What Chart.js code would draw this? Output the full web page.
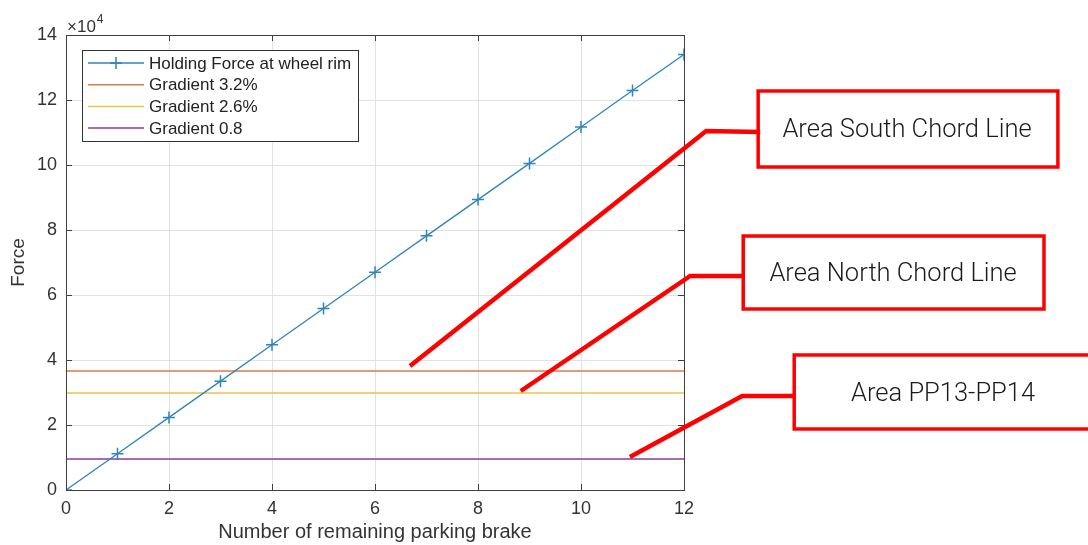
<!DOCTYPE html>
<html>
<head>
<meta charset="utf-8">
<script src="https://cdn.jsdelivr.net/npm/chart.js@4/dist/chart.umd.min.js"></script>
<style>
html,body{margin:0;padding:0;background:#fff;}
#c{display:block;}
</style>
</head>
<body>
<canvas id="c" width="1088" height="545"></canvas>
<script>
// ---- data ----
const brakes = [0,1,2,3,4,5,6,7,8,9,10,11,12];
const holdingForce = [0,11170,22340,33500,44700,55850,67000,78200,89350,100500,111700,122900,134000];
const gradient32 = 36600;
const gradient26 = 29850;
const gradient08 = 9540;
const xTicks = [0,2,4,6,8,10,12];
const yTicks = [0,20000,40000,60000,80000,100000,120000,140000];
const seriesLabels = ['Holding Force at wheel rim','Gradient 3.2%','Gradient 2.6%','Gradient 0.8'];
const annotationTexts = ['Area South Chord Line','Area North Chord Line','Area PP13-PP14'];
// annotation geometry in data units (x: brakes, y: force)
const annLines = [
  [[6.68,38150],[12.43,110460],[13.48,110150]],
  [[8.83,30460],[12.12,65850],[13.18,65850]],
  [[10.95,10150],[13.13,28920],[14.17,28920]]
];
const annBoxes = [
  [13.44,122770,19.26,99380],
  [13.15,78150,18.99,55690],
  [14.14,41540,20.08,18770]
];
const annTextPos = [[16.33,110600],[16.06,66300],[17.03,29400]];

const colors = ['#2f84bd','#e0784a','#e9c545','#a86bb5'];
const xMin = 0, xMax = 12;

const datasets = [
  {label: seriesLabels[0], data: brakes.map((b,i)=>({x:b,y:holdingForce[i]})),
   borderColor: colors[0], backgroundColor: colors[0], borderWidth: 1.3,
   pointStyle:'cross', pointRadius:6, pointBorderWidth:1.5, pointBorderColor: colors[0], tension:0},
  {label: seriesLabels[1], data: [{x:xMin,y:gradient32},{x:xMax,y:gradient32}],
   borderColor: colors[1], borderWidth: 1.5, pointRadius:0},
  {label: seriesLabels[2], data: [{x:xMin,y:gradient26},{x:xMax,y:gradient26}],
   borderColor: colors[2], borderWidth: 1.5, pointRadius:0},
  {label: seriesLabels[3], data: [{x:xMin,y:gradient08},{x:xMax,y:gradient08}],
   borderColor: colors[3], borderWidth: 2, pointRadius:0}
];

const FONT = "'Liberation Sans', Arial, Helvetica, sans-serif";
const AFONT = "Roboto, 'Liberation Sans', Arial, sans-serif";
const AXIS = '#404040';

const decor = {
  id:'decor',
  afterDatasetsDraw(chart){
    const ctx = chart.ctx, a = chart.chartArea;
    const xs = chart.scales.x, ys = chart.scales.y;
    ctx.save();
    // box
    ctx.strokeStyle = AXIS; ctx.lineWidth = 1;
    ctx.strokeRect(Math.round(a.left)+0.5, Math.round(a.top)+0.5, Math.round(a.right-a.left), Math.round(a.bottom-a.top));
    // inward ticks
    ctx.beginPath();
    xTicks.forEach(v=>{
      const px = Math.round(xs.getPixelForValue(v))+0.5;
      ctx.moveTo(px,a.bottom); ctx.lineTo(px,a.bottom-6);
      ctx.moveTo(px,a.top); ctx.lineTo(px,a.top+6);
    });
    yTicks.forEach(v=>{
      const py = Math.round(ys.getPixelForValue(v))+0.5;
      ctx.moveTo(a.left,py); ctx.lineTo(a.left+6,py);
      ctx.moveTo(a.right,py); ctx.lineTo(a.right-6,py);
    });
    ctx.stroke();
    // exponent
    ctx.fillStyle = '#333'; ctx.textBaseline='alphabetic'; ctx.textAlign='left';
    ctx.font = '17px ' + FONT;
    ctx.fillText('\u00d710', a.left+1, a.top-3);
    const w = ctx.measureText('\u00d710').width;
    ctx.font = '12px ' + FONT;
    ctx.fillText('4', a.left+1+w+1, a.top-12);

    // legend
    const lx = 82, ly = 50, lw = 276, lh = 91;
    ctx.fillStyle = '#fff';
    ctx.fillRect(lx,ly,lw,lh);
    ctx.strokeStyle = '#333'; ctx.lineWidth = 1;
    ctx.strokeRect(lx+0.5,ly+0.5,lw,lh);
    ctx.font = '17px ' + FONT; ctx.textBaseline='middle';
    chart.data.datasets.forEach((ds,i)=>{
      const cy = ly + 13 + i*21.7;
      ctx.strokeStyle = ds.borderColor; ctx.lineWidth = ds.borderWidth;
      ctx.beginPath(); ctx.moveTo(88,cy); ctx.lineTo(144,cy); ctx.stroke();
      if(i===0){
        ctx.lineWidth = 1.5;
        ctx.beginPath(); ctx.moveTo(116,cy-6); ctx.lineTo(116,cy+6);
        ctx.moveTo(110,cy); ctx.lineTo(122,cy); ctx.stroke();
      }
      ctx.fillStyle = '#222';
      ctx.fillText(ds.label, 149, cy+1);
    });
    ctx.restore();
  },
  afterDraw(chart){
    const ctx = chart.ctx;
    const xs = chart.scales.x, ys = chart.scales.y;
    const P = (x,y)=>[xs.getPixelForValue(x), ys.getPixelForValue(y)];
    ctx.save();
    ctx.strokeStyle = '#ff0000'; ctx.lineJoin='miter'; ctx.lineCap='butt';
    annBoxes.forEach((b,i)=>{
      const p1 = P(b[0],b[1]), p2 = P(b[2],b[3]);
      ctx.fillStyle='#fff';
      ctx.fillRect(p1[0],p1[1],p2[0]-p1[0],p2[1]-p1[1]);
      ctx.lineWidth = 3.5;
      ctx.strokeRect(p1[0],p1[1],p2[0]-p1[0],p2[1]-p1[1]);
    });
    annLines.forEach(l=>{
      ctx.lineWidth = 4.5;
      ctx.beginPath();
      l.forEach((pt,j)=>{const p=P(pt[0],pt[1]); if(j===0) ctx.moveTo(p[0],p[1]); else ctx.lineTo(p[0],p[1]);});
      ctx.stroke();
    });
    ctx.fillStyle = '#1a1a1a'; ctx.font = '300 25.5px ' + AFONT;
    ctx.textAlign='center'; ctx.textBaseline='middle';
    annTextPos.forEach((t,i)=>{
      const p = P(t[0],t[1]);
      ctx.fillText(annotationTexts[i], p[0], p[1]);
    });
    ctx.restore();
  }
};

new Chart(document.getElementById('c'), {
  type:'line',
  data:{datasets},
  plugins:[decor],
  options:{
    responsive:false, animation:false, devicePixelRatio:1,
    layout:{padding:{left:0,right:404,top:35,bottom:0}},
    plugins:{legend:{display:false}, tooltip:{enabled:false}},
    elements:{line:{tension:0}},
    scales:{
      x:{type:'linear', min:0, max:12,
        afterFit(s){s.height = 55;},
        afterBuildTicks(s){s.ticks = xTicks.map(v=>({value:v}));},
        grid:{color:'#e2e2e2', drawTicks:false, lineWidth:1},
        border:{display:false},
        ticks:{padding:8, color:'#333', font:{family:FONT,size:18}, maxRotation:0, callback:v=>String(v)},
        title:{display:true, text:'Number of remaining parking brake', color:'#333',
               font:{family:FONT,size:20}, padding:{top:0,bottom:1}}
      },
      y:{type:'linear', min:0, max:140000,
        afterFit(s){s.width = 66;},
        afterBuildTicks(s){s.ticks = yTicks.map(v=>({value:v}));},
        grid:{color:'#e2e2e2', drawTicks:false, lineWidth:1},
        border:{display:false},
        ticks:{padding:9, color:'#333', font:{family:FONT,size:18}, callback:v=>String(v/10000)},
        title:{display:true, text:'Force', color:'#333', font:{family:FONT,size:19}, padding:{top:7,bottom:4}}
      }
    }
  }
});
</script>
</body>
</html>
